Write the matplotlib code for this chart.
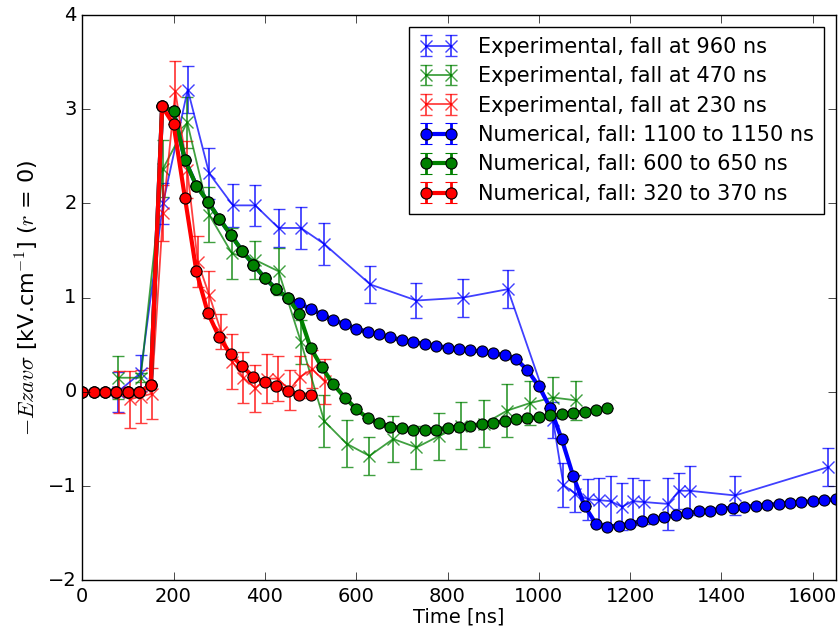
import numpy as np
import matplotlib
matplotlib.use('Agg')
import matplotlib.pyplot as plt

plt.style.use('classic')
plt.rcParams['mathtext.fontset'] = 'cm'
plt.rcParams['font.family'] = ['DejaVu Sans']

# experimental data (x in ns, y in kV/cm, yerr)
exp960_t = [78, 128, 177, 231, 278, 330, 379, 430, 479, 530, 631, 732, 833, 932,
            1031, 1054, 1080, 1107, 1132, 1157, 1182, 1206, 1231, 1283, 1307, 1330, 1430, 1633]
exp960_y = [0.0, 0.2, 2.0, 3.21, 2.32, 1.98, 1.98, 1.74, 1.74, 1.57, 1.14, 0.97, 1.0, 1.09,
            -0.3, -0.99, -1.08, -1.14, -1.15, -1.16, -1.22, -1.16, -1.17, -1.19, -1.05, -1.05, -1.10, -0.80]
exp960_e = [0.21, 0.19, 0.22, 0.25, 0.27, 0.23, 0.22, 0.2, 0.22, 0.22, 0.2, 0.19, 0.2, 0.2,
            0.19, 0.23, 0.2, 0.22, 0.24, 0.27, 0.25, 0.25, 0.23, 0.28, 0.19, 0.26, 0.21, 0.2]

exp470_t = [78, 128, 177, 230, 278, 328, 379, 430, 479, 530, 579, 629, 681, 732, 781,
            830, 880, 930, 980, 1031, 1081]
exp470_y = [0.15, 0.15, 2.37, 2.86, 1.88, 1.47, 1.40, 1.28, 0.53, -0.31, -0.55, -0.68, -0.50, -0.59, -0.47,
            -0.36, -0.34, -0.20, -0.12, -0.06, -0.09]
exp470_e = [0.23, 0.05, 0.3, 0.27, 0.29, 0.27, 0.2, 0.25, 0.23, 0.28, 0.25, 0.2, 0.24, 0.23, 0.25,
            0.25, 0.25, 0.28, 0.23, 0.22, 0.21]

exp230_t = [80, 104, 128, 152, 177, 204, 230, 253, 278, 304, 329, 353, 379, 404, 428, 454, 477, 504, 531]
exp230_y = [0.0, -0.08, -0.05, -0.02, 1.9, 3.19, 2.36, 1.38, 1.03, 0.64, 0.32, 0.15, 0.04, 0.14, 0.14,
            0.02, 0.16, 0.24, 0.11]
exp230_e = [0.22, 0.3, 0.28, 0.27, 0.3, 0.32, 0.3, 0.27, 0.25, 0.19, 0.29, 0.27, 0.25, 0.26, 0.24,
            0.21, 0.22, 0.2, 0.24]

# numerical data, sampled every 25 ns
num_red_y = [0, 0, 0, 0, 0, 0, 0.07, 3.03, 2.84, 2.06, 1.28, 0.84, 0.58, 0.40, 0.27, 0.16, 0.10,
             0.06, 0.01, -0.03, -0.03]
num_green_y = [0, 0, 0, 0, 0, 0, 0.07, 3.03, 2.98, 2.46, 2.19, 2.02, 1.84, 1.67, 1.50, 1.35, 1.21,
               1.09, 1.00, 0.83, 0.47, 0.26, 0.08, -0.06, -0.18, -0.28, -0.33, -0.37, -0.38, -0.40,
               -0.40, -0.40, -0.38, -0.37, -0.36, -0.34, -0.33, -0.31, -0.29, -0.28, -0.27, -0.25,
               -0.24, -0.22, -0.21, -0.19, -0.17]
num_blue_y = [0, 0, 0, 0, 0, 0, 0.07, 3.03, 2.98, 2.46, 2.19, 2.02, 1.84, 1.67, 1.50, 1.35, 1.21,
              1.09, 1.00, 0.94, 0.88, 0.82, 0.76, 0.72, 0.67, 0.64, 0.61, 0.58, 0.55, 0.53, 0.51,
              0.49, 0.47, 0.45, 0.44, 0.43, 0.41, 0.39, 0.35, 0.23, 0.06, -0.17, -0.50, -0.89,
              -1.21, -1.40, -1.43, -1.42, -1.40, -1.37, -1.35, -1.33, -1.31, -1.29, -1.27, -1.26,
              -1.24, -1.23, -1.22, -1.21, -1.20, -1.19, -1.18, -1.17, -1.16, -1.15, -1.14]
num_red_t = np.arange(len(num_red_y)) * 25
num_green_t = np.arange(len(num_green_y)) * 25
num_blue_t = np.arange(len(num_blue_y)) * 25

fig = plt.figure(figsize=(8.39, 6.3), dpi=100, facecolor='white')
ax = fig.add_axes([0.098, 0.079, 0.898, 0.897])
ax.set_facecolor('white')

exp_kw = dict(marker='x', markersize=9, linewidth=1.3, capsize=4, elinewidth=1.3,
              markeredgewidth=1.0, alpha=0.75)
ax.errorbar(exp960_t, exp960_y, yerr=exp960_e, color='b', label='Experimental, fall at 960 ns', **exp_kw)
ax.errorbar(exp470_t, exp470_y, yerr=exp470_e, color='g', label='Experimental, fall at 470 ns', **exp_kw)
ax.errorbar(exp230_t, exp230_y, yerr=exp230_e, color='r', label='Experimental, fall at 230 ns', **exp_kw)

num_kw = dict(marker='o', markersize=8, linewidth=3, capsize=4, elinewidth=2,
              markeredgecolor='k', markeredgewidth=0.8)
ax.errorbar(num_blue_t, num_blue_y, yerr=np.zeros(len(num_blue_y)), color='b',
            label='Numerical, fall: 1100 to 1150 ns', **num_kw)
ax.errorbar(num_green_t, num_green_y, yerr=np.zeros(len(num_green_y)), color='g',
            label='Numerical, fall: 600 to 650 ns', **num_kw)
ax.errorbar(num_red_t, num_red_y, yerr=np.zeros(len(num_red_y)), color='r',
            label='Numerical, fall: 320 to 370 ns', **num_kw)

ax.set_xlim(0, 1650)
ax.set_ylim(-2, 4)
ax.set_xticks(np.arange(0, 1601, 200))
ax.set_yticks(np.arange(-2, 5, 1))
ax.tick_params(labelsize=14, direction='in', length=6)
ax.tick_params(axis='x', pad=5)
ax.set_xlabel('Time [ns]', fontsize=14, labelpad=1)
ax.set_ylabel(r'$-Ezav\sigma$ [kV.cm$^{-1}$] ($r$ = 0)', fontsize=16)

leg = ax.legend(loc='upper right', numpoints=2, fontsize=15, fancybox=False,
                borderaxespad=0.55, borderpad=0.5, handlelength=1.8, handletextpad=1.0,
                labelspacing=0.45)
leg.get_frame().set_edgecolor('k')

fig.savefig('out.png', dpi=100, facecolor='white')
